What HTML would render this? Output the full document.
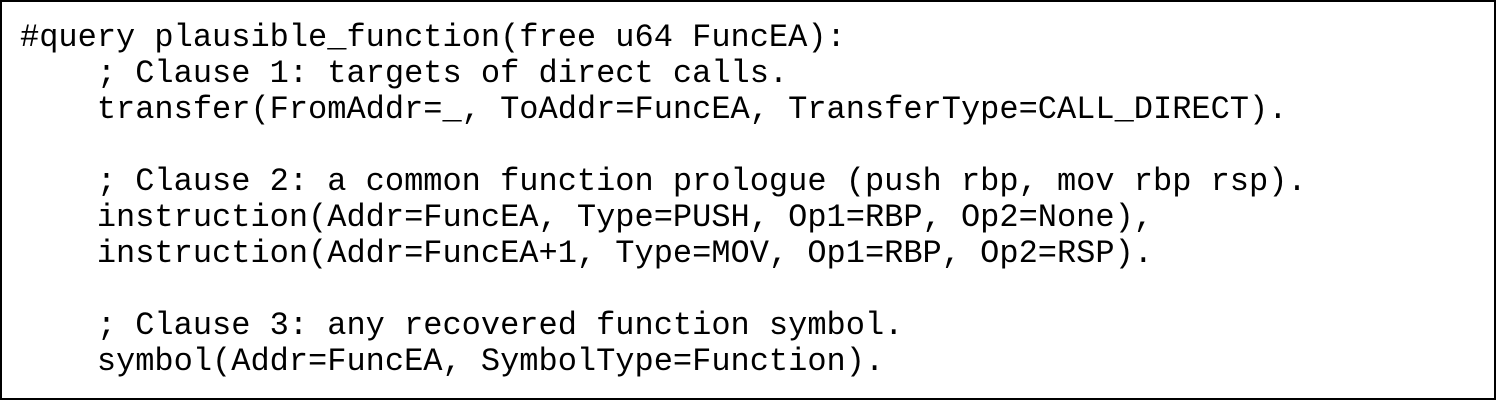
<!DOCTYPE html>
<html><head><style>
html,body{margin:0;padding:0;background:#fff;}
.box{position:absolute;left:0;top:0;width:1492px;height:396px;border:2px solid #000;background:#fff;}
pre{position:absolute;left:18px;top:18px;margin:0;font-family:"Liberation Mono",monospace;font-size:32px;line-height:36px;color:#000;}
</style></head><body>
<div class="box"><pre>#query plausible_function(free u64 FuncEA):
    ; Clause 1: targets of direct calls.
    transfer(FromAddr=_, ToAddr=FuncEA, TransferType=CALL_DIRECT).

    ; Clause 2: a common function prologue (push rbp, mov rbp rsp).
    instruction(Addr=FuncEA, Type=PUSH, Op1=RBP, Op2=None),
    instruction(Addr=FuncEA+1, Type=MOV, Op1=RBP, Op2=RSP).

    ; Clause 3: any recovered function symbol.
    symbol(Addr=FuncEA, SymbolType=Function).</pre></div>
</body></html>
